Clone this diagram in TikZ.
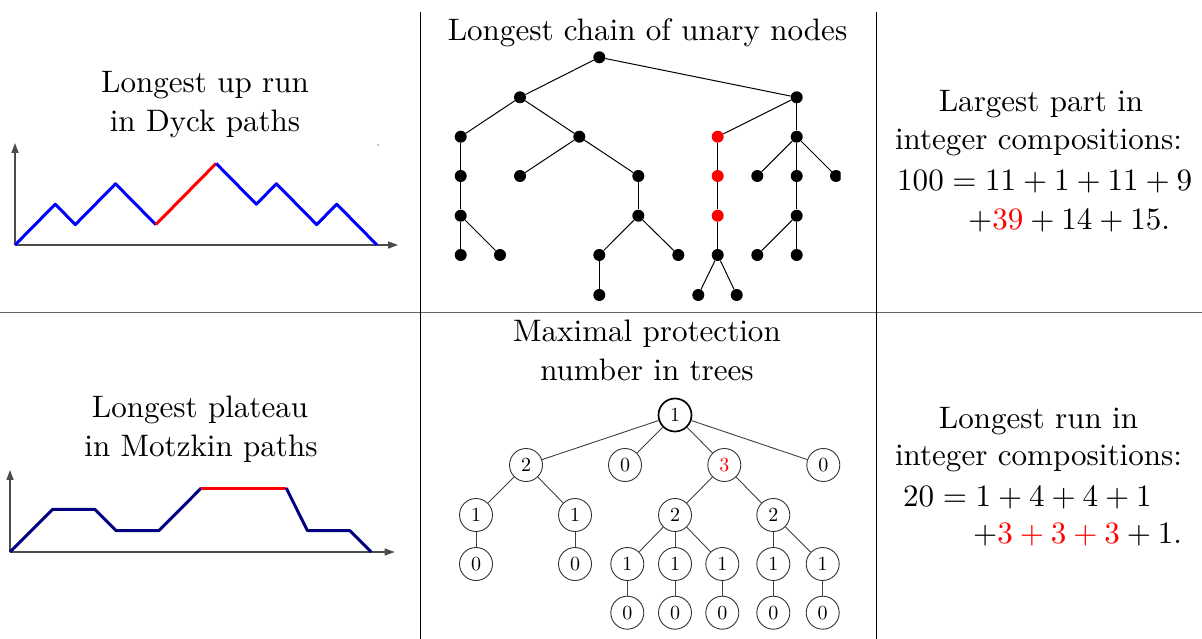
\RequirePackage{fix-cm}
\documentclass[tikz,border=0pt]{standalone}
\usetikzlibrary{arrows.meta}
\newcommand{\bigtxt}[1]{\scalebox{3.106}{\fontsize{10}{12}\selectfont #1}}
\newcommand{\circtxt}[1]{\scalebox{2.0}{\fontsize{10}{12}\selectfont #1}}
\begin{document}
\begin{tikzpicture}[x=1pt,y=-1pt,
  txt/.style={inner sep=0pt, anchor=base},
  txtl/.style={txt, anchor=base west},
  dot/.style={circle, fill=black, inner sep=0pt, minimum size=12pt},
  rdot/.style={dot, fill=red},
  tedge/.style={line width=1pt, black},
  pnode/.style={circle, draw=black!80, line width=0.9pt, inner sep=0pt, minimum size=33pt},
  proot/.style={pnode, line width=1.7pt, draw=black},
  pedge/.style={line width=0.9pt, black!75},
  axis/.style={line width=1.3pt, black!70, -{Triangle[length=10pt,width=7pt]}},
  pathline/.style={line width=3pt, line join=round},
  framev/.style={line width=1pt, black},
  frameh/.style={line width=1.4pt, black!60}
]
\useasboundingbox (0,0) rectangle (1202,639);

% frame
\coordinate (hl) at (0,312.3);
\coordinate (hr) at (1202,312.3);
\coordinate (v1t) at (420.7,12);
\coordinate (v1b) at (420.7,639);
\coordinate (v2t) at (876,12);
\coordinate (v2b) at (876,639);
\draw[frameh] (hl) -- (hr);
\draw[framev] (v1t) -- (v1b);
\draw[framev] (v2t) -- (v2b);

% texts
\node[txt] (t1a) at (205,92.3) {\bigtxt{Longest up run}};
\node[txt] (t1b) at (205,131.7) {\bigtxt{in Dyck paths}};
\node[txt] (t2) at (647.5,41) {\bigtxt{Longest chain of unary nodes}};
\node[txt] (t3a) at (1041,111.7) {\bigtxt{Largest part in}};
\node[txt] (t3b) at (1038.5,149.3) {\bigtxt{integer compositions:}};
\node[txtl] (t3c) at (897,190.7) {\bigtxt{$100 = 11 + 1 + 11 + 9$}};
\node[txtl] (t3d) at (968,229.3) {\bigtxt{$+\textcolor{red}{39} + 14 + 15.$}};
\node[txt] (t4a) at (200,417.3) {\bigtxt{Longest plateau}};
\node[txt] (t4b) at (201,456.7) {\bigtxt{in Motzkin paths}};
\node[txt] (t5a) at (647,341.7) {\bigtxt{Maximal protection}};
\node[txt] (t5b) at (647,380) {\bigtxt{number in trees}};
\node[txt] (t6a) at (1038.5,428.3) {\bigtxt{Longest run in}};
\node[txt] (t6b) at (1038.5,465.7) {\bigtxt{integer compositions:}};
\node[txtl] (t6c) at (903,506) {\bigtxt{$20 = 1 + 4 + 4 + 1$}};
\node[txtl] (t6d) at (973,543.3) {\bigtxt{$+\textcolor{red}{3 + 3 + 3} + 1.$}};

% Dyck path
\begin{scope}[shift={(15,245)}, x=20.11pt, y=20.4pt]
  \coordinate (do) at (0,0);
  \coordinate (dy) at (0,5);
  \coordinate (dx) at (19.05,0);
  \draw[axis] (do) -- (dy);
  \draw[axis] (do) -- (dx);
  \draw[pathline, blue] (0,0) -- (2,2) -- (3,1) -- (5,3) -- (7,1);
  \draw[pathline, red] (7,1) -- (10,4);
  \draw[pathline, blue] (10,4) -- (12,2) -- (13,3) -- (15,1) -- (16,2) -- (18,0);
\end{scope}
\fill[black!50] (378,145) circle (0.9);

% Motzkin path
\begin{scope}[shift={(10,552)}, x=21.25pt, y=21.3pt]
  \coordinate (mo) at (0,0);
  \coordinate (my) at (0,3.85);
  \coordinate (mx) at (18.1,0);
  \draw[axis] (mo) -- (my);
  \draw[axis] (mo) -- (mx);
  \draw[pathline, blue!50!black] (0,0) -- (2,2) -- (4,2) -- (5,1) -- (7,1) -- (9,3);
  \draw[pathline, red] (9,3) -- (13,3);
  \draw[pathline, blue!50!black] (13,3) -- (14,1) -- (16,1) -- (17,0);
\end{scope}

% unary chain tree
\node[dot] (r) at (599.3,57.3) {};
\node[dot] (a) at (520,97.3) {};
\node[dot] (b) at (796.7,97.3) {};
\node[dot] (a1) at (460.7,136.7) {};
\node[dot] (a2) at (579.3,136.7) {};
\node[rdot] (b1) at (717.7,136.7) {};
\node[dot] (b2) at (796.7,136.7) {};
\node[dot] (a11) at (460.7,176) {};
\node[dot] (a21) at (520,176) {};
\node[dot] (a22) at (638.3,176) {};
\node[rdot] (b11) at (717.7,176) {};
\node[dot] (b21) at (757.3,176) {};
\node[dot] (b22) at (796.7,176) {};
\begin{scope}
  \clip (0,0) rectangle (840.7,639);
  \node[dot] (b23) at (836,176) {};
\end{scope}
\node[dot] (a111) at (460.7,215.7) {};
\node[dot] (a221) at (638.3,215.7) {};
\node[rdot] (b111) at (717.7,215.7) {};
\node[dot] (b221) at (796.7,215.7) {};
\node[dot] (a1111) at (460.7,255) {};
\node[dot] (a1112) at (500,255) {};
\node[dot] (a2211) at (599.3,255) {};
\node[dot] (a2212) at (678.3,255) {};
\node[dot] (b1111) at (717.7,255) {};
\node[dot] (b2211) at (757.3,255) {};
\node[dot] (b2212) at (796.7,255) {};
\node[dot] (a22111) at (599.3,295) {};
\node[dot] (b11111) at (698.3,295) {};
\node[dot] (b11112) at (736.7,295) {};
\draw[tedge] (r) -- (a);
\draw[tedge] (r) -- (b);
\draw[tedge] (a) -- (a1);
\draw[tedge] (a) -- (a2);
\draw[tedge] (a1) -- (a11);
\draw[tedge] (a11) -- (a111);
\draw[tedge] (a111) -- (a1111);
\draw[tedge] (a111) -- (a1112);
\draw[tedge] (a2) -- (a21);
\draw[tedge] (a2) -- (a22);
\draw[tedge] (a22) -- (a221);
\draw[tedge] (a221) -- (a2211);
\draw[tedge] (a221) -- (a2212);
\draw[tedge] (a2211) -- (a22111);
\draw[tedge] (b) -- (b1);
\draw[tedge] (b) -- (b2);
\draw[tedge] (b1) -- (b11);
\draw[tedge] (b11) -- (b111);
\draw[tedge] (b111) -- (b1111);
\draw[tedge] (b1111) -- (b11111);
\draw[tedge] (b1111) -- (b11112);
\draw[tedge] (b2) -- (b21);
\draw[tedge] (b2) -- (b22);
\draw[tedge] (b2) -- (b23.center);
\draw[tedge] (b22) -- (b221);
\draw[tedge] (b221) -- (b2211);
\draw[tedge] (b221) -- (b2212);

% protection number tree
\node[proot] (p) at (675,415) {\circtxt{1}};
\node[pnode] (p1) at (526,465) {\circtxt{2}};
\node[pnode] (p2) at (625,465) {\circtxt{0}};
\node[pnode, text=red] (p3) at (724.3,465) {\circtxt{3}};
\node[pnode] (p4) at (823.3,465) {\circtxt{0}};
\node[pnode] (p11) at (476,515) {\circtxt{1}};
\node[pnode] (p12) at (575,515) {\circtxt{1}};
\node[pnode] (p31) at (675,515) {\circtxt{2}};
\node[pnode] (p32) at (773.3,515) {\circtxt{2}};
\node[pnode] (p111) at (476,564) {\circtxt{0}};
\node[pnode] (p121) at (575,564) {\circtxt{0}};
\node[pnode] (p311) at (627.3,564) {\circtxt{1}};
\node[pnode] (p312) at (675,564) {\circtxt{1}};
\node[pnode] (p313) at (722.3,564) {\circtxt{1}};
\node[pnode] (p321) at (773.3,564) {\circtxt{1}};
\node[pnode] (p322) at (822.7,564) {\circtxt{1}};
\node[pnode] (p3111) at (627.3,612.7) {\circtxt{0}};
\node[pnode] (p3121) at (675,612.7) {\circtxt{0}};
\node[pnode] (p3131) at (722.3,612.7) {\circtxt{0}};
\node[pnode] (p3211) at (773.3,612.7) {\circtxt{0}};
\node[pnode] (p3221) at (822.7,612.7) {\circtxt{0}};
\draw[pedge] (p) -- (p1);
\draw[pedge] (p) -- (p2);
\draw[pedge] (p) -- (p3);
\draw[pedge] (p) -- (p4);
\draw[pedge] (p1) -- (p11);
\draw[pedge] (p1) -- (p12);
\draw[pedge] (p11) -- (p111);
\draw[pedge] (p12) -- (p121);
\draw[pedge] (p3) -- (p31);
\draw[pedge] (p3) -- (p32);
\draw[pedge] (p31) -- (p311);
\draw[pedge] (p31) -- (p312);
\draw[pedge] (p31) -- (p313);
\draw[pedge] (p32) -- (p321);
\draw[pedge] (p32) -- (p322);
\draw[pedge] (p311) -- (p3111);
\draw[pedge] (p312) -- (p3121);
\draw[pedge] (p313) -- (p3131);
\draw[pedge] (p321) -- (p3211);
\draw[pedge] (p322) -- (p3221);
\end{tikzpicture}
\end{document}
